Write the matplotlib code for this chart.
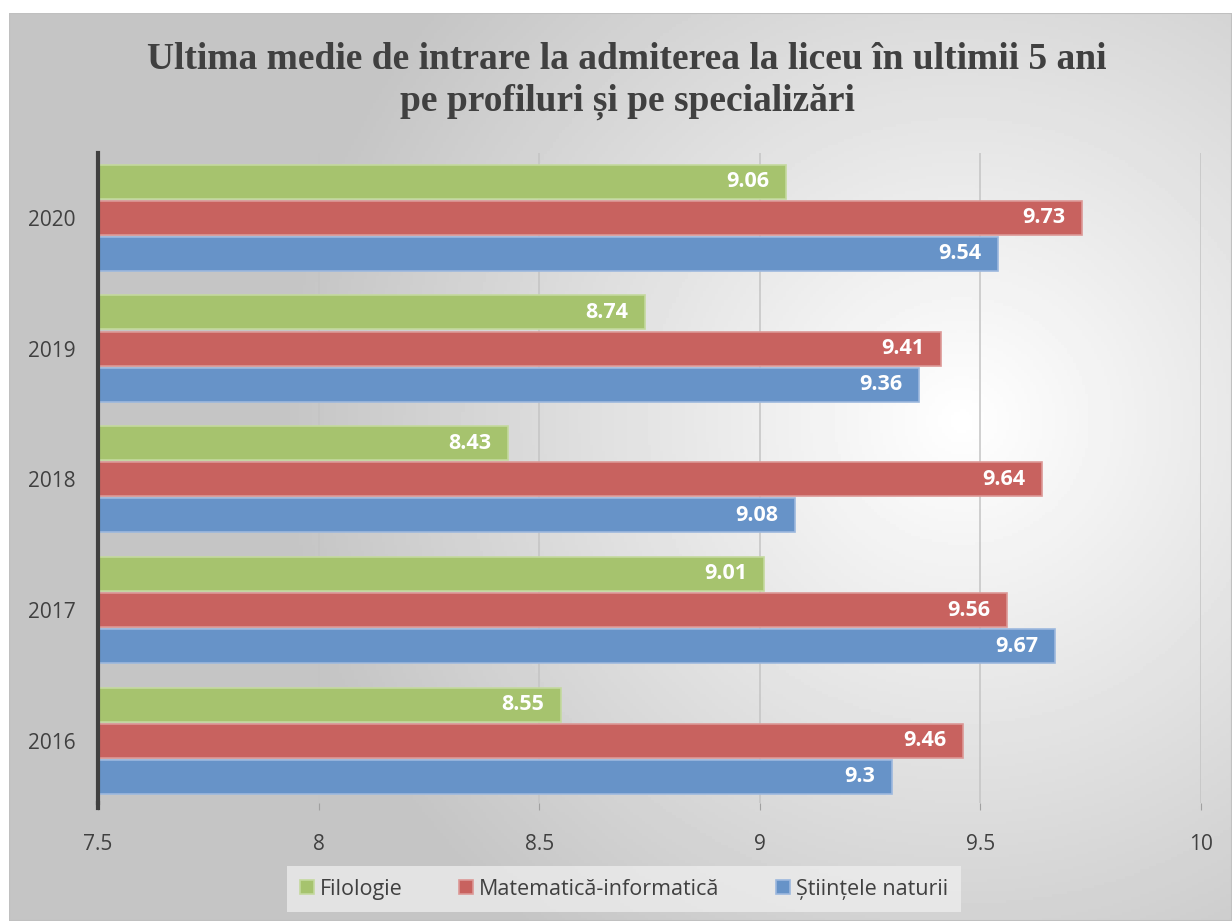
import numpy as np
import matplotlib.pyplot as plt
from matplotlib.patches import Rectangle

# ============================================
# Data
# ============================================
years = ['2016', '2017', '2018', '2019', '2020']
filologie = [8.55, 9.01, 8.43, 8.74, 9.06]
mate_info = [9.46, 9.56, 9.64, 9.41, 9.73]
stiinte = [9.30, 9.67, 9.08, 9.36, 9.54]
series_names = ['Filologie', 'Matematică-informatică', 'Științele naturii']
colors = ['#a6c36e', '#c8625f', '#6793c8']
edge_colors = ['#c4d99e', '#dc9896', '#9cb8de']

title = 'Ultima medie de intrare la admiterea la liceu în ultimii 5 ani\npe profiluri și pe specializări'

W, H = 1232, 921
fig = plt.figure(figsize=(W / 100, H / 100), dpi=100)
fig.patch.set_facecolor('white')

# ============================================
# Background: radial gradient panel
# ============================================
bg = fig.add_axes([9 / W, 0, 1 - 9 / W, 1 - 13 / H])
bg.set_axis_off()
yy, xx = np.mgrid[0:1:300j, 0:1:400j]
dist = np.sqrt(((xx - 0.78) * 1.3) ** 2 + (yy - 0.45) ** 2)
shade = np.clip(1.0 - 0.30 * dist / 0.95, 0.77, 1.0)
bg.imshow(shade, cmap='gray', vmin=0, vmax=1, aspect='auto',
          extent=[0, 1, 0, 1], origin='upper')
bg.add_patch(Rectangle((0, 0), 1, 1, transform=bg.transAxes, fill=False,
                       edgecolor='#c0c0c0', lw=1.5))
bg.set_xlim(0, 1)
bg.set_ylim(0, 1)

# ============================================
# Main bar chart
# ============================================
ax = fig.add_axes([98 / W, 1 - 803 / H, (1201 - 98) / W, 650 / H])
ax.patch.set_alpha(0)

y = np.arange(len(years))
h = 0.26
off = 0.276
all_series = [filologie, mate_info, stiinte]
for i, vals in enumerate(all_series):
    pos = y + off * (1 - i)
    bars = ax.barh(pos, np.array(vals) - 7.5, left=7.5, height=h,
                   color=colors[i], edgecolor=edge_colors[i], linewidth=1.2,
                   label=series_names[i], zorder=3)
    for p, v in zip(pos, vals):
        txt = f'{v:g}'
        ax.annotate(txt, (v, p), xytext=(-12, 0), textcoords='offset points',
                    ha='right', va='center', color='white', fontsize=15.5,
                    fontweight='bold', family='Open Sans', zorder=4)

ax.set_xlim(7.5, 10)
ax.set_ylim(-0.475, 4.495)
ax.set_xticks([7.5, 8, 8.5, 9, 9.5, 10])
ax.set_xticklabels(['7.5', '8', '8.5', '9', '9.5', '10'])
ax.set_yticks(y)
ax.set_yticklabels(years)
ax.grid(axis='x', color='#c4c4c4', lw=1.1, zorder=0)
ax.tick_params(axis='x', length=5, color='#a0a0a0', pad=17,
               labelsize=15, labelcolor='#404040')
ax.tick_params(axis='y', length=0, pad=16, labelsize=15, labelcolor='#404040')
for lab in ax.get_xticklabels() + ax.get_yticklabels():
    lab.set_family('Open Sans')
for side in ['top', 'right', 'bottom']:
    ax.spines[side].set_visible(False)
ax.spines['left'].set_color('#404040')
ax.spines['left'].set_linewidth(3)
ax.spines['left'].set_bounds(-0.475, 4.495)
ax.spines['left'].set_zorder(5)
ax.plot([7.5, 7.5], [-0.475, -0.51], color='#404040', lw=3, clip_on=False, zorder=5)

fig.text(627 / W, 1 - 81 / H, title, ha='center', va='center',
         fontsize=27, fontweight='bold', family='Liberation Serif',
         color='#404040', linespacing=1.22)

leg = fig.legend(loc='center', bbox_to_anchor=(624 / W, 1 - 889 / H), ncol=3,
                 frameon=True, fancybox=False, handlelength=0.65, handleheight=0.65,
                 handletextpad=0.3, columnspacing=2.6, borderpad=0.6,
                 borderaxespad=0, prop={'family': 'Open Sans', 'size': 15.5})
leg.get_frame().set_facecolor('#f0f0f0')
leg.get_frame().set_edgecolor('none')
leg.get_frame().set_alpha(0.7)
for t in leg.get_texts():
    t.set_color('#404040')

plt.savefig('out.png', dpi=100)
